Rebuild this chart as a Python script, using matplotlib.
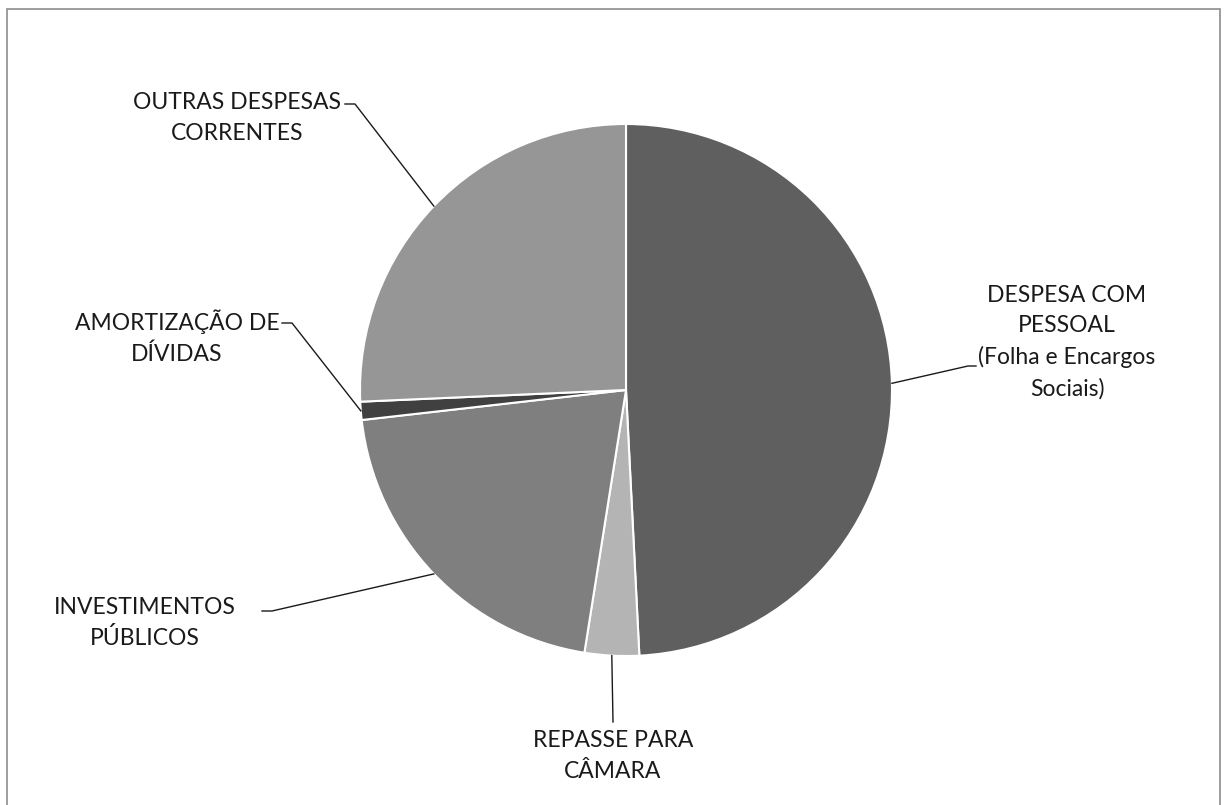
import numpy as np
import matplotlib.pyplot as plt
from matplotlib.patches import Rectangle

# Data ------------------------------
categories = [
    "DESPESA COM\nPESSOAL\n(Folha e Encargos\nSociais)",
    "REPASSE PARA\nCÂMARA",
    "INVESTIMENTOS\nPÚBLICOS",
    "AMORTIZAÇÃO DE\nDÍVIDAS",
    "OUTRAS DESPESAS\nCORRENTES",
]
shares = [49.2, 3.3, 20.7, 1.1, 25.7]
colors = ["#5f5f5f", "#b4b4b4", "#7f7f7f", "#404040", "#969696"]

# label anchor (pixels, y down), elbow point
label_pos = [(1067, 342), (613, 756), (145, 623), (177, 337), (237, 118)]
elbows = [(968, 366), (613, 722), (272, 611), (292, 323), (355, 104)]

W, H = 1225, 805
plt.rcParams['font.family'] = ['Lato', 'DejaVu Sans']

fig = plt.figure(figsize=(W / 100, H / 100), dpi=100)
ax = fig.add_axes([0, 0, 1, 1])

cx, cy, r = 626, H - 390, 266
wedges, _ = ax.pie(shares, colors=colors, startangle=90, counterclock=False,
                   center=(cx, cy), radius=r, frame=True,
                   wedgeprops=dict(edgecolor='white', linewidth=1.5))
ax.set_xlim(0, W)
ax.set_ylim(0, H)
ax.set_aspect('equal')
ax.axis('off')

for w, lab, (tx, ty), (ex, ey) in zip(wedges, categories, label_pos, elbows):
    mid = np.deg2rad((w.theta1 + w.theta2) / 2)
    px, py = cx + r * np.cos(mid), cy + r * np.sin(mid)
    ey = H - ey
    if tx > cx + 50:
        hx = ex + 8
    elif tx < cx - 50:
        hx = ex - 10
    else:
        hx = ex
    ax.plot([px, ex, hx], [py, ey, ey], color='#1a1a1a', lw=1)
    ax.text(tx, H - ty, lab, ha='center', va='center', fontsize=16.5,
            color='#1a1a1a', linespacing=1.55)

# outer frame
ax.add_patch(Rectangle((7, -5), 1213, H - 9 + 5, fill=False,
                       edgecolor='#8c8c8c', lw=1.2))

fig.savefig("out.png", dpi=100, facecolor='white')
